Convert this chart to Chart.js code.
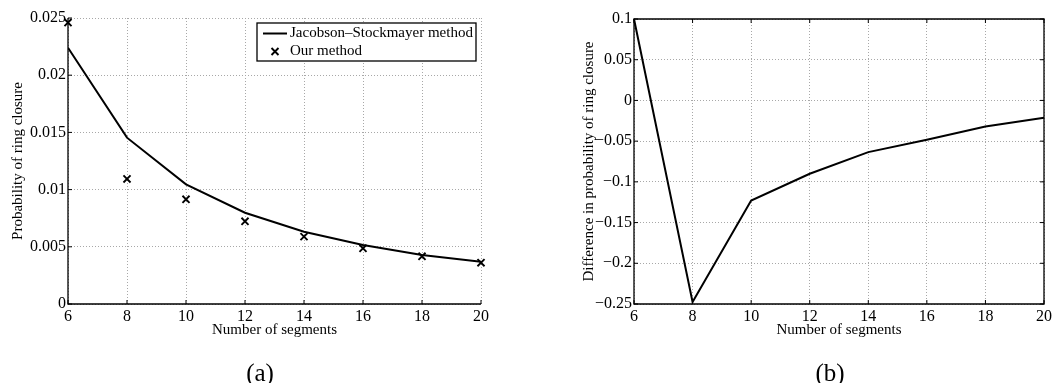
<!DOCTYPE html>
<html>
<head>
<meta charset="utf-8">
<script src="https://cdn.jsdelivr.net/npm/chart.js@4.4.0/dist/chart.umd.min.js"></script>
<style>
  body { margin: 0; background: #fff; }
  .wrap { position: relative; width: 1062px; height: 383px; }
  canvas { position: absolute; top: 0; }
  #ringA { left: 0; }
  #ringB { left: 531px; }
  .cap { position: absolute; top: 360px; width: 60px; text-align: center;
         font-family: 'Liberation Serif', serif; font-size: 25px; line-height: 25px; }
</style>
</head>
<body>
<div class="wrap">
  <canvas id="ringA" width="531" height="383"></canvas>
  <canvas id="ringB" width="531" height="383"></canvas>
  <div class="cap" style="left:230px">(a)</div>
  <div class="cap" style="left:800px">(b)</div>
</div>
<script>
// number of chain segments
const segments = [6, 8, 10, 12, 14, 16, 18, 20];
// probability of ring closure
const jacobsonStockmayer = [0.0224, 0.01454, 0.01046, 0.00798, 0.00632, 0.00516, 0.00428, 0.0037];
const ourMethod = [0.0246, 0.01093, 0.00915, 0.00723, 0.00589, 0.00487, 0.00417, 0.00361];
// relative difference between the two
const difference = [0.1, -0.2475, -0.123, -0.0901, -0.0635, -0.0484, -0.032, -0.0213];

const probTicks = [0, 0.005, 0.01, 0.015, 0.02, 0.025];
const diffTicks = [-0.25, -0.2, -0.15, -0.1, -0.05, 0, 0.05, 0.1];

Chart.defaults.font.family = "'Liberation Serif', 'Times New Roman', serif";
Chart.defaults.color = '#000';

const pts = (xs, ys) => xs.map((x, i) => ({ x: x, y: ys[i] }));
const minus = v => String(v).replace('-', '\u2212');

// small inward tick marks, plus a full frame when asked
const axisFrame = {
  id: 'axisFrame',
  afterDatasetsDraw(chart, args, opts) {
    const { ctx, chartArea: a, scales: { x, y } } = chart;
    const len = 4;
    ctx.save();
    ctx.strokeStyle = '#000';
    ctx.lineWidth = 1;
    ctx.beginPath();
    x.ticks.forEach(t => {
      const px = x.getPixelForValue(t.value);
      ctx.moveTo(px, a.bottom); ctx.lineTo(px, a.bottom - len);
      if (opts.box) { ctx.moveTo(px, a.top); ctx.lineTo(px, a.top + len); }
    });
    y.ticks.forEach(t => {
      const py = y.getPixelForValue(t.value);
      ctx.moveTo(a.left, py); ctx.lineTo(a.left + len, py);
      if (opts.box) { ctx.moveTo(a.right, py); ctx.lineTo(a.right - len, py); }
    });
    ctx.stroke();
    ctx.lineWidth = 1.3;
    ctx.beginPath();
    if (opts.box) {
      ctx.rect(a.left, a.top, a.right - a.left, a.bottom - a.top);
    } else {
      ctx.moveTo(a.left, a.top); ctx.lineTo(a.left, a.bottom); ctx.lineTo(a.right, a.bottom);
    }
    ctx.stroke();
    ctx.restore();
  }
};

// boxed legend in the upper right corner of the plot
const boxLegend = {
  id: 'boxLegend',
  afterDraw(chart, args, opts) {
    if (!opts.display) return;
    const { ctx, chartArea: a } = chart;
    const w = 219, h = 38;
    const left = a.right - 5 - w, top = a.top + 5;
    ctx.save();
    ctx.fillStyle = '#fff';
    ctx.fillRect(left, top, w, h);
    ctx.strokeStyle = '#000';
    ctx.lineWidth = 1.3;
    ctx.strokeRect(left, top, w, h);
    ctx.font = "15px 'Liberation Serif', serif";
    ctx.fillStyle = '#000';
    ctx.textBaseline = 'middle';
    chart.data.datasets.forEach((ds, i) => {
      const cy = top + 10.5 + i * 18;
      ctx.beginPath();
      if (ds.showLine) {
        ctx.lineWidth = ds.borderWidth;
        ctx.moveTo(left + 6, cy); ctx.lineTo(left + 30, cy);
      } else {
        const r = 3.5;
        ctx.lineWidth = ds.borderWidth;
        ctx.moveTo(left + 18 - r, cy - r); ctx.lineTo(left + 18 + r, cy + r);
        ctx.moveTo(left + 18 - r, cy + r); ctx.lineTo(left + 18 + r, cy - r);
      }
      ctx.stroke();
      ctx.fillText(ds.label, left + 33, cy);
    });
    ctx.restore();
  }
};

const gridStyle = { color: '#a8a8a8', lineWidth: 1, drawTicks: false };
const borderStyle = { display: false, dash: [1, 2] };

function xScale() {
  return {
    type: 'linear', min: 6, max: 20,
    afterBuildTicks: s => { s.ticks = segments.map(v => ({ value: v })); },
    afterFit: s => { s.height = 79; },
    ticks: { padding: 3, font: { size: 16 }, maxRotation: 0, autoSkip: false },
    grid: gridStyle, border: borderStyle,
    title: { display: true, text: 'Number of segments', font: { size: 15 }, padding: { top: 0, bottom: 44 } }
  };
}

new Chart(document.getElementById('ringA'), {
  type: 'scatter',
  data: {
    datasets: [
      { label: 'Jacobson\u2013Stockmayer method', data: pts(segments, jacobsonStockmayer),
        showLine: true, borderColor: '#000', borderWidth: 2, pointRadius: 0, tension: 0 },
      { label: 'Our method', data: pts(segments, ourMethod), showLine: false,
        pointStyle: 'crossRot', pointRadius: 5, borderColor: '#000', backgroundColor: '#000',
        borderWidth: 1.9, clip: false }
    ]
  },
  options: {
    responsive: false, animation: false,
    layout: { padding: { left: 0, right: 50, top: 18, bottom: 0 } },
    plugins: { legend: { display: false }, tooltip: { enabled: false },
               boxLegend: { display: true }, axisFrame: { box: false } },
    scales: {
      x: xScale(),
      y: {
        min: 0, max: 0.025,
        afterBuildTicks: s => { s.ticks = probTicks.map(v => ({ value: v })); },
        afterFit: s => { s.width = 68; },
        ticks: { padding: 2, font: { size: 16 }, callback: v => String(v) },
        grid: gridStyle, border: borderStyle,
        title: { display: true, text: 'Probability of ring closure', font: { size: 15 }, padding: { top: 9, bottom: 0 } }
      }
    }
  },
  plugins: [axisFrame, boxLegend]
});

new Chart(document.getElementById('ringB'), {
  type: 'scatter',
  data: {
    datasets: [
      { label: 'Difference', data: pts(segments, difference), showLine: true,
        borderColor: '#000', borderWidth: 2, pointRadius: 0, tension: 0, clip: false }
    ]
  },
  options: {
    responsive: false, animation: false,
    layout: { padding: { left: 0, right: 18, top: 19, bottom: 0 } },
    plugins: { legend: { display: false }, tooltip: { enabled: false },
               boxLegend: { display: false }, axisFrame: { box: true } },
    scales: {
      x: xScale(),
      y: {
        min: -0.25, max: 0.1,
        afterBuildTicks: s => { s.ticks = diffTicks.map(v => ({ value: v })); },
        afterFit: s => { s.width = 103; },
        ticks: { padding: 2, font: { size: 16 }, callback: v => minus(v) },
        grid: gridStyle, border: borderStyle,
        title: { display: true, text: 'Difference in probability of ring closure', font: { size: 15 }, padding: { top: 49, bottom: 0 } }
      }
    }
  },
  plugins: [axisFrame, boxLegend]
});
</script>
</body>
</html>
